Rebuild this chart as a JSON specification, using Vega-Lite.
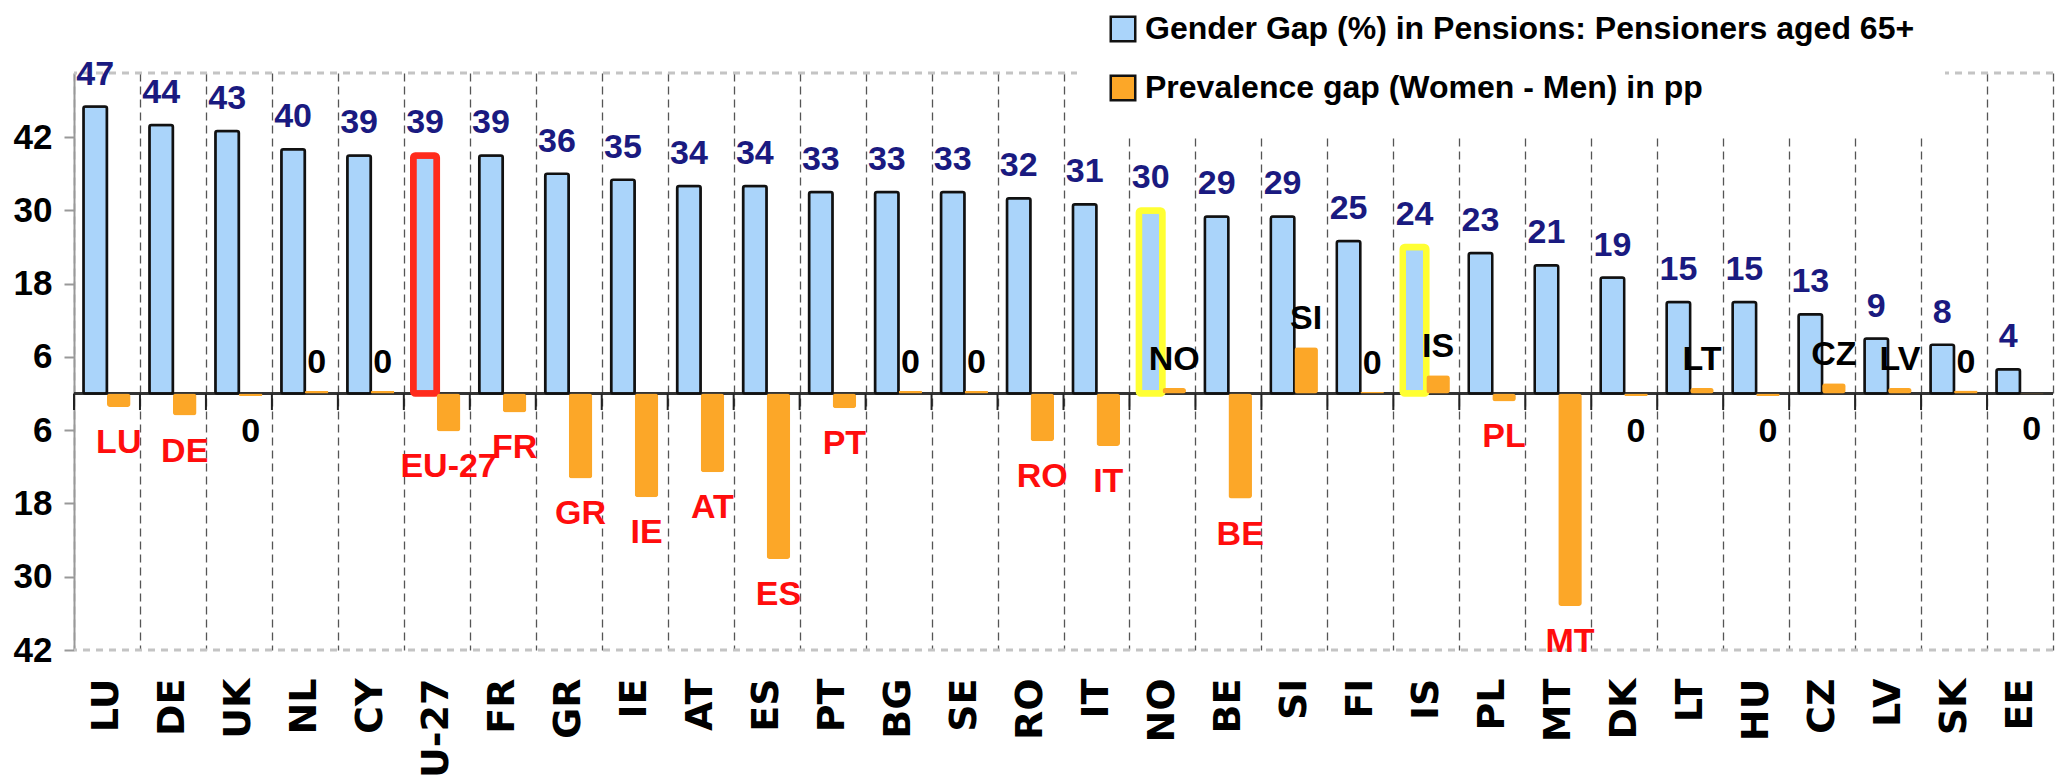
{
  "$schema": "https://vega.github.io/schema/vega-lite/v6.json",
  "width": 1979,
  "height": 577,
  "autosize": {"type": "none"},
  "padding": {"left": 74, "top": 73, "right": 10, "bottom": 125},
  "background": "white",
  "config": {"view": {"stroke": null}, "font": "Liberation Sans"},
  "datasets": {
    "d": [
      {"c": "LU", "s": "Gender Gap (%) in Pensions: Pensioners aged 65+", "v": 47},
      {"c": "LU", "s": "Prevalence gap (Women - Men) in pp", "v": -2.2, "lab": "LU"},
      {"c": "DE", "s": "Gender Gap (%) in Pensions: Pensioners aged 65+", "v": 44},
      {"c": "DE", "s": "Prevalence gap (Women - Men) in pp", "v": -3.6, "lab": "DE"},
      {"c": "UK", "s": "Gender Gap (%) in Pensions: Pensioners aged 65+", "v": 43},
      {"c": "UK", "s": "Prevalence gap (Women - Men) in pp", "v": -0.4, "lab": "0"},
      {"c": "NL", "s": "Gender Gap (%) in Pensions: Pensioners aged 65+", "v": 40},
      {"c": "NL", "s": "Prevalence gap (Women - Men) in pp", "v": 0.4, "lab": "0"},
      {"c": "CY", "s": "Gender Gap (%) in Pensions: Pensioners aged 65+", "v": 39},
      {"c": "CY", "s": "Prevalence gap (Women - Men) in pp", "v": 0.4, "lab": "0"},
      {"c": "EU-27", "s": "Gender Gap (%) in Pensions: Pensioners aged 65+", "v": 39},
      {"c": "EU-27", "s": "Prevalence gap (Women - Men) in pp", "v": -6.2, "lab": "EU-27"},
      {"c": "FR", "s": "Gender Gap (%) in Pensions: Pensioners aged 65+", "v": 39},
      {"c": "FR", "s": "Prevalence gap (Women - Men) in pp", "v": -3.1, "lab": "FR"},
      {"c": "GR", "s": "Gender Gap (%) in Pensions: Pensioners aged 65+", "v": 36},
      {"c": "GR", "s": "Prevalence gap (Women - Men) in pp", "v": -13.9, "lab": "GR"},
      {"c": "IE", "s": "Gender Gap (%) in Pensions: Pensioners aged 65+", "v": 35},
      {"c": "IE", "s": "Prevalence gap (Women - Men) in pp", "v": -17.0, "lab": "IE"},
      {"c": "AT", "s": "Gender Gap (%) in Pensions: Pensioners aged 65+", "v": 34},
      {"c": "AT", "s": "Prevalence gap (Women - Men) in pp", "v": -12.9, "lab": "AT"},
      {"c": "ES", "s": "Gender Gap (%) in Pensions: Pensioners aged 65+", "v": 34},
      {"c": "ES", "s": "Prevalence gap (Women - Men) in pp", "v": -27.1, "lab": "ES"},
      {"c": "PT", "s": "Gender Gap (%) in Pensions: Pensioners aged 65+", "v": 33},
      {"c": "PT", "s": "Prevalence gap (Women - Men) in pp", "v": -2.4, "lab": "PT"},
      {"c": "BG", "s": "Gender Gap (%) in Pensions: Pensioners aged 65+", "v": 33},
      {"c": "BG", "s": "Prevalence gap (Women - Men) in pp", "v": 0.4, "lab": "0"},
      {"c": "SE", "s": "Gender Gap (%) in Pensions: Pensioners aged 65+", "v": 33},
      {"c": "SE", "s": "Prevalence gap (Women - Men) in pp", "v": 0.4, "lab": "0"},
      {"c": "RO", "s": "Gender Gap (%) in Pensions: Pensioners aged 65+", "v": 32},
      {"c": "RO", "s": "Prevalence gap (Women - Men) in pp", "v": -7.8, "lab": "RO"},
      {"c": "IT", "s": "Gender Gap (%) in Pensions: Pensioners aged 65+", "v": 31},
      {"c": "IT", "s": "Prevalence gap (Women - Men) in pp", "v": -8.6, "lab": "IT"},
      {"c": "NO", "s": "Gender Gap (%) in Pensions: Pensioners aged 65+", "v": 30},
      {"c": "NO", "s": "Prevalence gap (Women - Men) in pp", "v": 0.9, "lab": "NO"},
      {"c": "BE", "s": "Gender Gap (%) in Pensions: Pensioners aged 65+", "v": 29},
      {"c": "BE", "s": "Prevalence gap (Women - Men) in pp", "v": -17.2, "lab": "BE"},
      {"c": "SI", "s": "Gender Gap (%) in Pensions: Pensioners aged 65+", "v": 29},
      {"c": "SI", "s": "Prevalence gap (Women - Men) in pp", "v": 7.6, "lab": "SI"},
      {"c": "FI", "s": "Gender Gap (%) in Pensions: Pensioners aged 65+", "v": 25},
      {"c": "FI", "s": "Prevalence gap (Women - Men) in pp", "v": 0.3, "lab": "0"},
      {"c": "IS", "s": "Gender Gap (%) in Pensions: Pensioners aged 65+", "v": 24},
      {"c": "IS", "s": "Prevalence gap (Women - Men) in pp", "v": 3.0, "lab": "IS"},
      {"c": "PL", "s": "Gender Gap (%) in Pensions: Pensioners aged 65+", "v": 23},
      {"c": "PL", "s": "Prevalence gap (Women - Men) in pp", "v": -1.3, "lab": "PL"},
      {"c": "MT", "s": "Gender Gap (%) in Pensions: Pensioners aged 65+", "v": 21},
      {"c": "MT", "s": "Prevalence gap (Women - Men) in pp", "v": -34.8, "lab": "MT"},
      {"c": "DK", "s": "Gender Gap (%) in Pensions: Pensioners aged 65+", "v": 19},
      {"c": "DK", "s": "Prevalence gap (Women - Men) in pp", "v": -0.4, "lab": "0"},
      {"c": "LT", "s": "Gender Gap (%) in Pensions: Pensioners aged 65+", "v": 15},
      {"c": "LT", "s": "Prevalence gap (Women - Men) in pp", "v": 0.9, "lab": "LT"},
      {"c": "HU", "s": "Gender Gap (%) in Pensions: Pensioners aged 65+", "v": 15},
      {"c": "HU", "s": "Prevalence gap (Women - Men) in pp", "v": -0.4, "lab": "0"},
      {"c": "CZ", "s": "Gender Gap (%) in Pensions: Pensioners aged 65+", "v": 13},
      {"c": "CZ", "s": "Prevalence gap (Women - Men) in pp", "v": 1.7, "lab": "CZ"},
      {"c": "LV", "s": "Gender Gap (%) in Pensions: Pensioners aged 65+", "v": 9},
      {"c": "LV", "s": "Prevalence gap (Women - Men) in pp", "v": 0.9, "lab": "LV"},
      {"c": "SK", "s": "Gender Gap (%) in Pensions: Pensioners aged 65+", "v": 8},
      {"c": "SK", "s": "Prevalence gap (Women - Men) in pp", "v": 0.5, "lab": "0"},
      {"c": "EE", "s": "Gender Gap (%) in Pensions: Pensioners aged 65+", "v": 4},
      {"c": "EE", "s": "Prevalence gap (Women - Men) in pp", "v": -0.1, "lab": "0"}
    ]
  },
  "layer": [
    {
      "data": {"values": [{"k": "top"}]},
      "mark": {"type": "rule", "color": "#c4c4c4", "strokeWidth": 3, "strokeDash": [7, 6]},
      "encoding": {"y": {"datum": 52.5, "type": "quantitative"}}
    },
    {
      "data": {"values": [{"k": "bottom"}]},
      "mark": {"type": "rule", "color": "#c4c4c4", "strokeWidth": 3, "strokeDash": [7, 6]},
      "encoding": {"y": {"datum": -42, "type": "quantitative"}}
    },
    {
      "data": {"values": [{"k": "zero"}]},
      "mark": {"type": "rule", "color": "#333333", "strokeWidth": 3},
      "encoding": {"y": {"datum": 0, "type": "quantitative"}}
    },
    {
      "data": {"name": "d"},
      "encoding": {
        "x": {
          "field": "c",
          "type": "nominal",
          "sort": null,
          "scale": {"paddingInner": 0, "paddingOuter": 0},
          "axis": {
            "title": null,
            "orient": "bottom",
            "labelAngle": -90,
            "labelAlign": "right",
            "labelBaseline": "middle",
            "labelFont": "DejaVu Sans",
            "labelFontSize": 38,
            "labelFontWeight": "bold",
            "labelColor": "black",
            "labelPadding": 28,
            "ticks": false,
            "tickSize": 0,
            "domain": false,
            "grid": true,
            "tickBand": "extent",
            "gridDash": [8, 5],
            "gridColor": "#555555",
            "gridWidth": 1.3
          }
        }
      },
      "layer": [
        {
          "transform": [{"filter": {"field": "s", "equal": "Gender Gap (%) in Pensions: Pensioners aged 65+"}}],
          "mark": {"type": "rule", "color": "#222222", "strokeWidth": 2},
          "encoding": {
            "x": {"field": "c", "type": "nominal", "sort": null, "bandPosition": 0},
            "y": {"datum": 0, "type": "quantitative"},
            "y2": {"datum": -2.7}
          }
        },
        {
          "transform": [{"filter": {"field": "s", "equal": "Gender Gap (%) in Pensions: Pensioners aged 65+"}}],
          "mark": {"type": "bar", "cornerRadius": 2},
          "encoding": {
            "xOffset": {
              "field": "s",
              "type": "nominal",
              "scale": {
                "domain": ["Gender Gap (%) in Pensions: Pensioners aged 65+", "Prevalence gap (Women - Men) in pp"],
                "paddingInner": 0,
                "paddingOuter": 0.4
              }
            },
            "y": {
              "field": "v",
              "type": "quantitative",
              "scale": {"domain": [-42, 52.5], "nice": false, "zero": false},
              "axis": {
                "title": null,
                "values": [-42, -30, -18, -6, 6, 18, 30, 42],
                "labelExpr": "abs(datum.value)",
                "labelFont": "Liberation Sans",
                "labelFontSize": 35,
                "labelFontWeight": "bold",
                "labelColor": "black",
                "labelPadding": 12,
                "tickSize": 10,
                "tickColor": "#999999",
                "tickWidth": 2,
                "domainColor": "#999999",
                "domainWidth": 2,
                "grid": false
              }
            },
            "fill": {
              "field": "s",
              "type": "nominal",
              "scale": {
                "domain": ["Gender Gap (%) in Pensions: Pensioners aged 65+", "Prevalence gap (Women - Men) in pp"],
                "range": ["#aad4fa", "#fca728"]
              },
              "legend": {
                "orient": "none",
                "legendX": 1003,
                "legendY": -90,
                "title": null,
                "symbolType": "square",
                "symbolSize": 600,
                "symbolStrokeWidth": 2.5,
                "symbolOpacity": 1,
                "labelFont": "Liberation Sans",
                "labelFontSize": 32,
                "labelFontWeight": "bold",
                "labelColor": "black",
                "labelLimit": 1200,
                "labelOffset": 6,
                "rowPadding": 23,
                "fillColor": "white",
                "padding": 30,
                "encode": {
                  "symbols": {
                    "update": {
                      "stroke": [
                        {"test": "datum.value === 'Prevalence gap (Women - Men) in pp'", "value": "transparent"},
                        {"value": "#111111"}
                      ]
                    }
                  }
                }
              }
            },
            "stroke": {
              "condition": [
                {"test": "datum.c === 'EU-27'", "value": "#ff2b1c"},
                {"test": "datum.c === 'NO' || datum.c === 'IS'", "value": "#ffff33"}
              ],
              "value": "#111111"
            },
            "strokeWidth": {
              "condition": {"test": "datum.c === 'EU-27' || datum.c === 'NO' || datum.c === 'IS'", "value": 6.5},
              "value": 2.5
            }
          }
        },
        {
          "transform": [{"filter": {"field": "s", "equal": "Prevalence gap (Women - Men) in pp"}}],
          "mark": {"type": "bar", "cornerRadius": 3},
          "encoding": {
            "xOffset": {"field": "s", "type": "nominal"},
            "y": {"field": "v", "type": "quantitative"},
            "fill": {"field": "s", "type": "nominal"}
          }
        },
        {
          "transform": [{"filter": {"field": "s", "equal": "Gender Gap (%) in Pensions: Pensioners aged 65+"}}],
          "mark": {"type": "text", "font": "Liberation Sans", "fontSize": 34, "fontWeight": "bold", "color": "#1a1a80", "baseline": "alphabetic", "align": "center", "dy": -22},
          "encoding": {
            "xOffset": {"field": "s", "type": "nominal"},
            "y": {"field": "v", "type": "quantitative"},
            "text": {"field": "v", "type": "quantitative", "format": ".0f"}
          }
        },
        {
          "transform": [
            {"filter": {"field": "s", "equal": "Prevalence gap (Women - Men) in pp"}},
            {"filter": "datum.v < 0"}
          ],
          "mark": {"type": "text", "font": "Liberation Sans", "fontSize": 34, "fontWeight": "bold", "baseline": "alphabetic", "align": "center", "dy": 46},
          "encoding": {
            "xOffset": {"field": "s", "type": "nominal"},
            "y": {"field": "v", "type": "quantitative"},
            "text": {"field": "lab", "type": "nominal"},
            "color": {"condition": {"test": "datum.lab === '0'", "value": "black"}, "value": "#ff0d0d"}
          }
        },
        {
          "transform": [
            {"filter": {"field": "s", "equal": "Prevalence gap (Women - Men) in pp"}},
            {"filter": "datum.v >= 0"}
          ],
          "mark": {"type": "text", "font": "Liberation Sans", "fontSize": 34, "fontWeight": "bold", "baseline": "alphabetic", "align": "center", "dy": -18, "color": "black"},
          "encoding": {
            "xOffset": {"field": "s", "type": "nominal"},
            "y": {"field": "v", "type": "quantitative"},
            "text": {"field": "lab", "type": "nominal"}
          }
        }
      ]
    }
  ]
}
